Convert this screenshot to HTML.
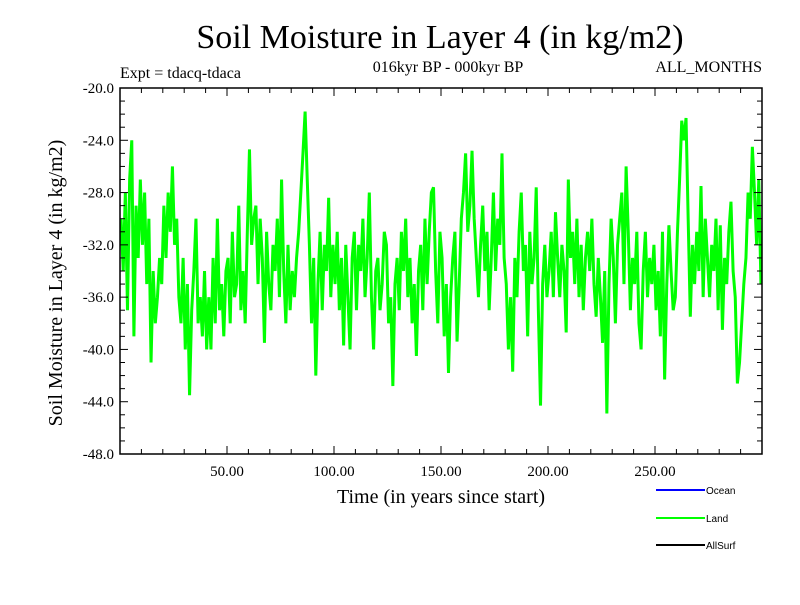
<!DOCTYPE html>
<html><head><meta charset="utf-8"><style>
body{margin:0;background:#fff}
svg text{font-family:"Liberation Serif",serif}
</style></head><body>
<svg width="800" height="600" viewBox="0 0 800 600">
<text x="440" y="48" font-size="34" text-anchor="middle">Soil Moisture in Layer 4 (in kg/m2)</text>
<text x="120" y="78" font-size="16">Expt = tdacq-tdaca</text>
<text x="448" y="72" font-size="16" text-anchor="middle">016kyr BP - 000kyr BP</text>
<text x="762" y="72" font-size="16" text-anchor="end">ALL_MONTHS</text>
<g id="plot"></g>
<text x="441" y="503" font-size="20" text-anchor="middle">Time (in years since start)</text>
<text transform="translate(62,283) rotate(-90)" font-size="20" text-anchor="middle">Soil Moisture in Layer 4 (in kg/m2)</text>
<g>
<line x1="656" y1="490" x2="705" y2="490" stroke="#0000ff" stroke-width="2"/>
<text x="706" y="494" font-size="10" style="font-family:'Liberation Sans',sans-serif">Ocean</text>
<line x1="656" y1="518" x2="705" y2="518" stroke="#00ff00" stroke-width="2"/>
<text x="706" y="522" font-size="10" style="font-family:'Liberation Sans',sans-serif">Land</text>
<line x1="656" y1="545" x2="705" y2="545" stroke="#000" stroke-width="2"/>
<text x="706" y="549" font-size="10" style="font-family:'Liberation Sans',sans-serif">AllSurf</text>
</g>
</svg>
<script>
const landValues=[-30,-34,-28,-37,-27,-24,-39,-29,-33,-27,
-32,-28,-35,-30,-41,-34,-38,-36,-33,-35,
-29,-33,-28,-31,-26,-32,-30,-36,-38,-33,
-40,-35,-43.5,-37,-34,-30,-38,-36,-39,-34,
-40,-36,-40,-33,-38,-30,-37,-35,-39,-34,
-33,-38,-31,-36,-35,-29,-37,-34,-38,-31,
-24.7,-32,-30,-29,-35,-30,-33,-39.5,-31,-35,
-37,-32,-34,-30,-36,-27,-34,-38,-32,-37,
-34,-36,-33,-31,-28,-25,-21.8,-27,-32,-38,
-33,-42,-35,-31,-37,-32,-34,-28.4,-36,-32,
-35,-31,-37,-33,-39.7,-32,-36,-40,-33,-31,
-37,-32,-34,-30,-36,-33,-28,-36,-40,-34,
-33,-37,-35,-31,-32,-38,-36,-42.8,-35,-33,
-37,-31,-34,-30,-36,-33,-38,-35,-40.5,-34,
-32,-37,-30,-35,-31,-28,-27.6,-34,-38,-31,
-33,-39,-35,-41.8,-36,-33,-31,-39.4,-35,-30,
-28,-25,-31,-29,-24.8,-30,-33,-36,-32,-29,
-34,-31,-37,-33,-28,-34,-30,-32,-25,-33,
-35,-40,-36,-41.7,-33,-36,-31,-28,-34,-32,
-39,-31,-35,-33,-27.6,-37,-44.3,-35,-32,-36,
-34,-31,-36,-29.5,-33,-36,-32,-34,-38.7,-27,
-33,-31,-35,-30,-36,-32,-37,-33,-31,-34,
-30,-35,-37.5,-33,-36,-39.5,-34,-44.9,-35,-30,
-33,-38,-32,-30,-28,-35,-26,-31,-37,-33,
-35,-31,-38,-40,-34,-31,-36,-33,-35,-32,
-37,-34,-39,-31,-42.3,-35,-30.5,-34,-37,-36,
-31,-27,-22.5,-24,-22.3,-30,-37.5,-32,-35,-31,
-34,-27.5,-36,-30,-33,-36,-32,-34,-30,-37,
-30.5,-38.5,-33,-35,-31,-28.7,-34,-36,-42.6,-41,
-38,-35,-33,-28,-30,-24.5,-28,-32,-27,-35];
const xTickValues=[50,100,150,200,250];
const xTickLabels=["50.00","100.00","150.00","200.00","250.00"];
const yTickValues=[-20,-24,-28,-32,-36,-40,-44,-48];
const yTickLabels=["-20.0","-24.0","-28.0","-32.0","-36.0","-40.0","-44.0","-48.0"];
const X0=120,X1=762,Y0=88,Y1=454,XMIN=0,XMAX=300,YMIN=-48,YMAX=-20;
const sx=v=>X0+(v-XMIN)/(XMAX-XMIN)*(X1-X0);
const sy=v=>Y1-(v-YMIN)/(YMAX-YMIN)*(Y1-Y0);
const NS="http://www.w3.org/2000/svg";
const g=document.getElementById('plot');
function mk(t,a){const e=document.createElementNS(NS,t);for(const k in a)e.setAttribute(k,a[k]);g.appendChild(e);return e;}
const pts=landValues.map((v,i)=>sx(i+0.5)+','+sy(v)).join(' ');
const pl=mk('polyline',{points:pts,fill:'none',stroke:'#00ff00','stroke-width':3,'stroke-linejoin':'miter'});


const fr=mk('rect',{x:X0,y:Y0,width:X1-X0,height:Y1-Y0,fill:'none',stroke:'#000','stroke-width':1.5});


for(let v=10;v<XMAX;v+=10){const big=v%50===0;const L=big?8:5;
 const t1=mk('line',{x1:sx(v),x2:sx(v),y1:Y1,y2:Y1-L,stroke:'#000','stroke-width':1});
 
 
 const t2=mk('line',{x1:sx(v),x2:sx(v),y1:Y0,y2:Y0+L,stroke:'#000','stroke-width':1});
 
 }
xTickValues.forEach((v,i)=>{const t=mk('text',{x:sx(v),y:Y1+22,'font-size':15,'text-anchor':'middle'});t.textContent=xTickLabels[i];
 
 });
for(let v=YMIN+1;v<YMAX;v+=1){const big=(v%4===0);const L=big?8:5;
 const t1=mk('line',{x1:X0,x2:X0+L,y1:sy(v),y2:sy(v),stroke:'#000','stroke-width':1});
 
 
 const t2=mk('line',{x1:X1,x2:X1-L,y1:sy(v),y2:sy(v),stroke:'#000','stroke-width':1});
 
 }
yTickValues.forEach((v,i)=>{const t=mk('text',{x:X0-6,y:sy(v)+5,'font-size':15,'text-anchor':'end'});t.textContent=yTickLabels[i];
 
 });
</script>
</body></html>
